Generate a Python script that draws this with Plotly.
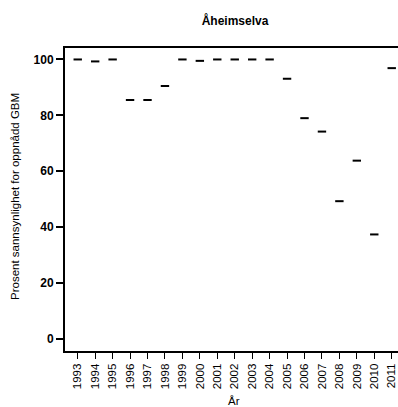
import plotly.graph_objects as go

years = [1993, 1994, 1995, 1996, 1997, 1998, 1999, 2000, 2001, 2002,
         2003, 2004, 2005, 2006, 2007, 2008, 2009, 2010, 2011]
values = [100, 99.3, 100, 85.5, 85.5, 90.5, 100, 99.5, 100, 100,
          100, 100, 93.1, 79, 74.2, 49.3, 63.8, 37.4, 96.9]
y_ticks = [0, 20, 40, 60, 80, 100]

FONT = "Liberation Sans, Arial, sans-serif"

fig = go.Figure()
fig.add_trace(go.Scatter(
    x=years, y=values, mode="markers",
    marker=dict(symbol="line-ew", size=6, line=dict(width=2, color="black"), color="black"),
    showlegend=False, hoverinfo="x+y", cliponaxis=False,
))

fig.update_layout(
    width=398, height=407,
    margin=dict(l=65, r=0, t=48, b=56, autoexpand=False),
    paper_bgcolor="white", plot_bgcolor="white",
    font=dict(family=FONT, color="black"),
    title=dict(text="<b>Åheimselva</b>", x=235 / 398, xanchor="center",
               y=1 - 21 / 407, yanchor="middle", font=dict(size=12, family=FONT)),
    xaxis=dict(
        range=[1992.27, 2011.36], tickmode="array", tickvals=years,
        ticktext=[str(y) for y in years], tickangle=-90,
        ticks="outside", ticklen=6, tickwidth=1, tickcolor="black",
        showline=True, linewidth=2, linecolor="black", mirror=True,
        showgrid=False, zeroline=False, automargin=False,
        tickfont=dict(size=11.5, family=FONT),
    ),
    yaxis=dict(
        range=[-4.3, 104.1], tickmode="array", tickvals=y_ticks,
        ticks="outside", ticklen=7, tickwidth=1.5, tickcolor="black",
        showline=True, linewidth=2, linecolor="black", mirror=False,
        showgrid=False, zeroline=False, automargin=False,
        tickfont=dict(size=12, family=FONT, weight="bold"),
    ),
    annotations=[
        dict(text="År", xref="paper", yref="paper", x=(234 - 65) / 333, y=-(401 - 351) / 303,
             xanchor="center", yanchor="middle", showarrow=False,
             font=dict(size=11.5, family=FONT)),
        dict(text="Prosent sannsynlighet for oppnådd GBM", xref="paper", yref="paper",
             x=-(65 - 15) / 333, y=(351 - 197) / 303, textangle=-90,
             xanchor="center", yanchor="middle", showarrow=False,
             font=dict(size=11.5, family=FONT)),
    ],
)

fig.write_html(
    "out.html",
    config={"displayModeBar": False},
    post_script="document.body.style.margin='0';document.body.style.overflow='hidden';",
)
